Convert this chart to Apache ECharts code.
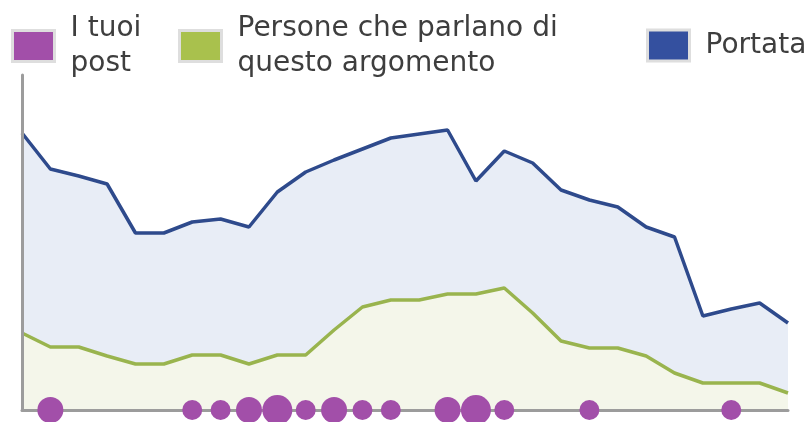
<!DOCTYPE html>
<html>
<head>
<meta charset="utf-8">
<script src="https://cdn.jsdelivr.net/npm/echarts@6/dist/echarts.min.js"></script>
<style>
  html, body { margin: 0; padding: 0; background: #fff; }
  #chart { width: 808px; height: 422px; }
</style>
</head>
<body>
<div id="chart"></div>
<script>
// one entry per day, 28 days
const days = ['1', '2', '3', '4', '5', '6', '7', '8', '9', '10', '11', '12', '13', '14',
  '15', '16', '17', '18', '19', '20', '21', '22', '23', '24', '25', '26', '27', '28'];

const portata = [277, 241, 234, 226, 177, 177, 188, 191, 183, 218, 238, 250, 261, 272,
  276, 280, 229, 259, 247, 220, 210, 203, 183, 173, 94, 101, 107, 87];

const persone = [77, 63, 63, 54, 46, 46, 55, 55, 46, 55, 55, 80, 103, 110,
  110, 116, 116, 122, 97, 69, 62, 62, 54, 37, 27, 27, 27, 17];

// number of posts published each day
const post = [0, 2, 0, 0, 0, 0, 1, 1, 2, 3, 1, 2, 1, 1,
  0, 2, 3, 1, 0, 0, 1, 0, 0, 0, 0, 1, 0, 0];

const names = {
  post: 'I tuoi post',
  persone: 'Persone che parlano di questo argomento',
  portata: 'Portata'
};

const legendLabels = {
  'I tuoi post': 'I tuoi\npost',
  'Persone che parlano di questo argomento': 'Persone che parlano di\nquesto argomento',
  'Portata': 'Portata'
};

const dotSize = (n) => (n >= 3 ? 30 : n === 2 ? 26 : 20);

const chart = echarts.init(document.getElementById('chart'), null, { renderer: 'canvas' });

const legendBase = {
  orient: 'horizontal',
  selectedMode: false,
  padding: 0,
  itemWidth: 42,
  itemHeight: 31,
  icon: 'rect',
  itemStyle: { borderColor: '#dedede', borderWidth: 3 },
  formatter: (name) => legendLabels[name],
  textStyle: {
    fontFamily: 'DejaVu Sans',
    fontSize: 28,
    lineHeight: 35,
    color: '#3e3e3e',
    padding: [0, 0, 0, 11]
  }
};

chart.setOption({
  animation: false,
  backgroundColor: '#ffffff',
  legend: [
    Object.assign({}, legendBase, { data: [names.post], left: 11, top: 11 }),
    Object.assign({}, legendBase, { data: [names.persone], left: 178, top: 11 }),
    Object.assign({}, legendBase, { data: [names.portata], left: 646, top: 28 })
  ],
  grid: { left: 22, right: 20, top: 75, bottom: 12 },
  xAxis: {
    type: 'category',
    data: days,
    boundaryGap: false,
    z: 4,
    axisLine: { lineStyle: { color: '#9c9c9c', width: 3 } },
    axisTick: { show: false },
    axisLabel: { show: false }
  },
  yAxis: {
    type: 'value',
    min: 0,
    max: 335,
    z: 4,
    axisLine: { show: true, lineStyle: { color: '#9c9c9c', width: 3 } },
    axisTick: { show: false },
    axisLabel: { show: false },
    splitLine: { show: false }
  },
  series: [
    {
      name: names.portata,
      type: 'line',
      data: portata,
      symbol: 'none',
      itemStyle: { color: '#34509f' },
      lineStyle: { color: '#2e4a8c', width: 3.5 },
      areaStyle: { color: '#e8edf6', opacity: 1 },
      z: 2
    },
    {
      name: names.persone,
      type: 'line',
      data: persone,
      symbol: 'none',
      itemStyle: { color: '#a9c14d' },
      lineStyle: { color: '#99b44e', width: 3.5 },
      areaStyle: { color: '#f4f6ea', opacity: 1 },
      z: 3
    },
    {
      name: names.post,
      type: 'scatter',
      clip: false,
      data: post.map((n, i) => [i, 0, n]).filter((d) => d[2] > 0),
      symbolSize: (d) => dotSize(d[2]),
      itemStyle: { color: '#a24fa9', opacity: 1 },
      z: 5
    }
  ]
});

window.addEventListener('resize', chart.resize);
</script>
</body>
</html>
